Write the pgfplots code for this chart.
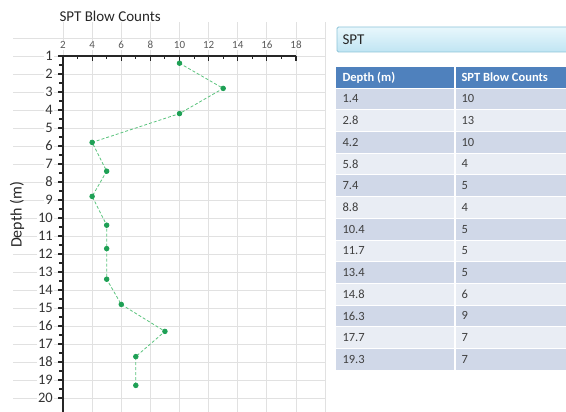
\documentclass[border=0pt]{standalone}
\usepackage{pgfplots}
\pgfplotsset{compat=1.18}
\usepackage{fontspec}
\setmainfont{Carlito}
\definecolor{sheetgrid}{RGB}{225,225,225}
\definecolor{sptline}{RGB}{90,195,125}
\definecolor{sptmark}{RGB}{30,160,85}
\definecolor{hdr}{RGB}{79,129,189}
\definecolor{rowa}{RGB}{208,216,232}
\definecolor{rowb}{RGB}{233,237,244}
\definecolor{txt}{RGB}{64,64,64}
\definecolor{boxtop}{RGB}{232,247,252}
\definecolor{boxbot}{RGB}{192,229,243}
\definecolor{boxline}{RGB}{140,195,216}
\begin{document}
\begin{tikzpicture}[x=1pt,y=1pt]
\useasboundingbox (0,0) rectangle (566,412);
\clip (0,0) rectangle (566,412);
% worksheet grid behind the chart
\foreach \k in {0,...,20} \draw[sheetgrid,line width=0.6pt] (13,374-18*\k) -- (325,374-18*\k);
\foreach \k in {0,...,9} \draw[sheetgrid,line width=0.6pt] (63+29.1*\k,390) -- (63+29.1*\k,0);
\node[anchor=west,font=\fontsize{15}{17}\selectfont,text=black!85] at (56,396) {SPT Blow Counts};
\node[rotate=90,font=\fontsize{16}{18}\selectfont,text=black!85] at (17,197) {Depth (m)};
\begin{axis}[
    at={(63pt,356pt)}, anchor=north west,
    scale only axis, width=233pt, height=356.4pt,
    xmin=2, xmax=18, ymin=1, ymax=20.8,
    y dir=reverse,
    axis x line*=top, axis y line*=left,
    axis line style={line width=1.6pt, black!85},
    xtick={2,4,...,18}, ytick={1,...,20},
    minor x tick num=1, minor y tick num=1,
    xtick align=inside, ytick align=outside,
    major tick length=5pt, minor tick length=3.5pt,
    every tick/.style={black!85, line width=1.1pt},
    /pgf/number format/assume math mode=true,
    xticklabel style={font=\fontsize{11}{13}\selectfont, text=black!65, yshift=6pt, fill=white, inner sep=1pt},
    yticklabel style={font=\fontsize{14.5}{16}\selectfont, text=black!80, xshift=-4pt, fill=white, inner sep=1pt},
]
\addplot[sptline, densely dashed, line width=0.8pt, mark=*, mark size=2.3pt,
    mark options={solid, fill=sptmark, draw=sptmark}] coordinates {
    (10,1.4) (13,2.8) (10,4.2) (4,5.8) (5,7.4) (4,8.8) (5,10.4)
    (5,11.7) (5,13.4) (6,14.8) (9,16.3) (7,17.7) (7,19.3)
};
\end{axis}
% SPT box
\shade[top color=boxtop, bottom color=boxbot, draw=boxline, line width=0.8pt, rounded corners=1.5pt]
    (337,385) rectangle (580,360);
\node[anchor=west,font=\fontsize{15}{17}\selectfont,text=black!85] at (339,372.5) {SPT};
% table
\fill[hdr] (336,345) rectangle (566,324);
\node[anchor=west,text=white,font=\fontsize{12.5}{14}\selectfont\bfseries] at (339,334.5) {Depth (m)};
\node[anchor=west,text=white,font=\fontsize{12.5}{14}\selectfont\bfseries] at (458,334.5) {SPT Blow Counts};
\foreach \d/\n [count=\i from 0] in {1.4/10,2.8/13,4.2/10,5.8/4,7.4/5,8.8/4,10.4/5,11.7/5,13.4/5,14.8/6,16.3/9,17.7/7,19.3/7} {
  \pgfmathtruncatemacro{\odd}{mod(\i,2)}
  \ifnum\odd=0 \def\rc{rowa}\else\def\rc{rowb}\fi
  \fill[\rc] (336,324-21.7*\i) rectangle (566,324-21.7*\i-21.7);
  \draw[white,line width=0.6pt] (336,324-21.7*\i) -- (566,324-21.7*\i);
  \node[anchor=west,text=txt,font=\fontsize{12.5}{14}\selectfont] at (339,324-21.7*\i-10.85) {\d};
  \node[anchor=west,text=txt,font=\fontsize{12.5}{14}\selectfont] at (458,324-21.7*\i-10.85) {\n};
}
\draw[white,line width=1.5pt] (455,345) -- (455,41.9);
\end{tikzpicture}
\end{document}
